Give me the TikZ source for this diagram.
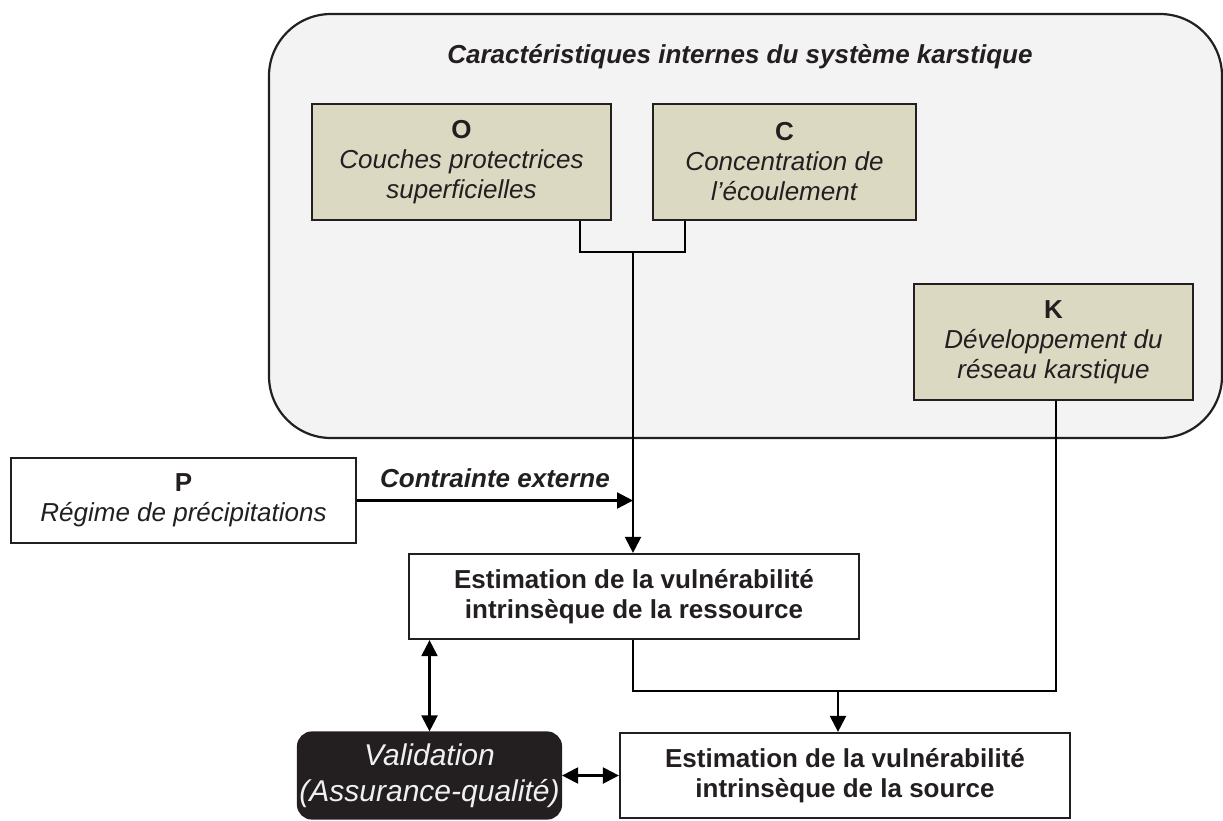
\documentclass[tikz,border=0pt]{standalone}
\usepackage{fontspec}
\setmainfont{Liberation Sans}
\usetikzlibrary{arrows.meta}

\definecolor{fondsys}{HTML}{F2F3F2}
\definecolor{beige}{HTML}{DCD9C3}
\definecolor{encre}{HTML}{231F20}

\begin{document}
\begin{tikzpicture}[
            x = 1pt, y = -1pt, % pixel units, y downwards
            > = {Triangle[length=16pt,width=16pt]}, % arrow head style
            line width = 2.2pt, % line style
            every node/.style = {
                font = \fontsize{26}{30}\selectfont,
                align = center,
                text = encre
            }
        ]

        \tikzstyle{critere}=[
            draw = encre,
            fill = beige,
            inner sep = 0pt,
            minimum height = 116pt
        ]

        \tikzstyle{bloc}=[
            draw = encre,
            fill = white,
            inner sep = 0pt,
            minimum height = 85pt
        ]

        \useasboundingbox (0,0) rectangle (1223,820);

        % karst system
        \node[draw = encre, fill = fondsys, rounded corners = 62pt,
              minimum width = 953pt, minimum height = 424pt] (sys) at (745.5,226) {};
        \node (titre) at (740,57) {\textbf{\textit{Caractéristiques internes du système karstique}}};

        \node[critere, minimum width = 299pt] (o) at (461.5,162) {\textbf{O}\\\textit{Couches protectrices}\\\textit{superficielles}};
        \node[critere, minimum width = 263pt] (c) at (784.5,162) {\textbf{C}\\\textit{Concentration de}\\\textit{l'écoulement}};
        \node[critere, minimum width = 279pt] (k) at (1053.5,342) {\textbf{K}\\\textit{Développement du}\\\textit{réseau karstique}};

        % outside
        \node[bloc, minimum width = 345pt] (p) at (183.5,500.5) {\textbf{P}\\\textit{Régime de précipitations}};
        \node (contrainte) at (495,478) {\textbf{\textit{Contrainte externe}}};
        \node[bloc, minimum width = 450pt] (res) at (634,596.5) {\textbf{Estimation de la vulnérabilité}\\\textbf{intrinsèque de la ressource}};
        \node[bloc, minimum width = 450pt] (src) at (845,775.5) {\textbf{Estimation de la vulnérabilité}\\\textbf{intrinsèque de la source}};
        \node[draw = encre, fill = encre, rounded corners = 14pt, inner sep = 0pt,
              minimum width = 263pt, minimum height = 86pt,
              font = \fontsize{30}{36}\selectfont, text = white!94!black] (val) at (429.5,775.5) {\textit{Validation}\\\textit{(Assurance-qualité)}};

        \coordinate (jo) at (580,252);
        \coordinate (jc) at (685,252);
        \coordinate (joc) at (633,252);
        \coordinate (jk) at (1056,691);
        \coordinate (jsrc) at (838,691);

        \draw (o.south -| jo) -- (jo) -- (jc) -- (c.south -| jc);
        \draw[->] (joc) -- (joc |- res.north);
        \draw[->] (p.east) -- (joc |- p.east);
        \draw (k.south -| jk) -- (jk) -- (jk -| joc) -- (res.south -| joc);
        \draw[->] (jsrc) -- (jsrc |- src.north);
        \draw[<->] (val.north) -- (val.north |- res.south);
        \draw[<->] (val.east) -- (src.west);

  \end{tikzpicture}
\end{document}
